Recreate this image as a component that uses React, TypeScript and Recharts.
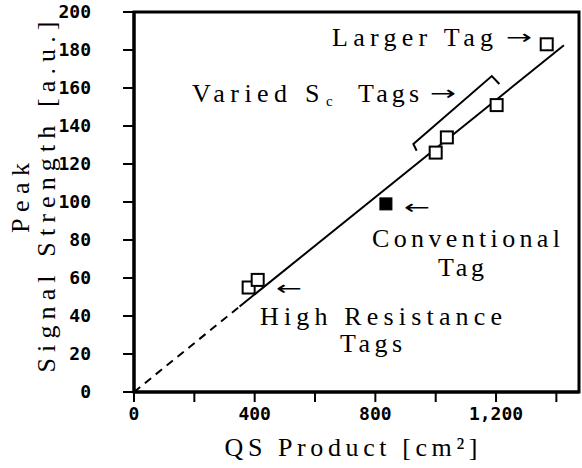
import React from "react";
import { ScatterChart, Scatter, XAxis, YAxis, ReferenceArea } from "recharts";

// tag measurements: QS product [cm²] vs peak signal [a.u.]
const highResQS = [380, 410];
const highResSignal = [55, 59];
const conventionalQS = [835];
const conventionalSignal = [99];
const variedQS = [1000, 1037, 1202];
const variedSignal = [126, 134, 151];
const largerQS = [1368];
const largerSignal = [183];

// fitted line through origin, dashed part is the extrapolation
const fitDashedQS = [0, 350];
const fitDashedSignal = [0, 45];
const fitSolidQS = [350, 1425];
const fitSolidSignal = [45, 182.5];

// bracket grouping the varied Sc tags
const bracketQS = [937, 926, 1186, 1211];
const bracketSignal = [127, 130.5, 166.3, 162.1];

const xTicks = [0, 200, 400, 600, 800, 1000, 1200, 1400];
const xTickLabels = ["0", "", "400", "", "800", "", "1,200", ""];
const yTicks = [0, 20, 40, 60, 80, 100, 120, 140, 160, 180, 200];
const X_MAX = 1475;

const zip = (xs: number[], ys: number[]) => xs.map((x, i) => ({ x, y: ys[i] }));

const OpenSquare = (props: any) => (
    <rect x={props.cx - 6} y={props.cy - 6} width={12} height={12} fill="#fff" stroke="#000" strokeWidth={2} />
);
const FilledSquare = (props: any) => (
    <rect x={props.cx - 6} y={props.cy - 6} width={12} height={12} fill="#000" stroke="#000" strokeWidth={1} />
);
const NoDot = () => <g />;

const tickFont = { fontFamily: "DejaVu Sans Mono", fontSize: 18, fontWeight: 700, fill: "#000" };

const XTick = ({ x, y, payload }: any) => (
    <text x={x} y={y + 16} textAnchor="middle" {...tickFont}>
        {xTickLabels[xTicks.indexOf(payload.value)] ?? ""}
    </text>
);
const YTick = ({ x, y, payload }: any) => (
    <text x={x - 30} y={y + 6} textAnchor="end" {...tickFont}>
        {payload.value}
    </text>
);

// serif label, stretched to the width it has in the original
const Label = ({ x, y, w, children, anchor = "start", rotate }: any) => (
    <text
        x={rotate ? 0 : x}
        y={rotate ? 0 : y}
        transform={rotate ? `translate(${x},${y}) rotate(-90)` : undefined}
        textAnchor={anchor}
        textLength={w}
        lengthAdjust="spacing"
        fontFamily="Liberation Serif"
        fontSize={26}
        fill="#000"
    >
        {children}
    </text>
);
const Arrow = ({ x, y, dir }: any) => (
    <text x={x} y={y} textLength={26} lengthAdjust="spacingAndGlyphs" fontFamily="DejaVu Sans" fontSize={20} fill="#000">
        {dir === "left" ? "←" : "→"}
    </text>
);

export default function App() {
    return (
        <div style={{ position: "absolute", left: 0, top: 0, width: 582, height: 468, background: "#fff" }}>
            <ScatterChart width={582} height={468} margin={{ top: 12, right: 3, left: 0, bottom: 0 }}>
                <XAxis
                    type="number"
                    dataKey="x"
                    domain={[0, X_MAX]}
                    ticks={xTicks}
                    height={76}
                    axisLine={{ stroke: "#000", strokeWidth: 3 }}
                    tickLine={{ stroke: "#000", strokeWidth: 2 }}
                    tickSize={10}
                    tick={<XTick />}
                    allowDataOverflow
                />
                <YAxis
                    type="number"
                    dataKey="y"
                    domain={[0, 200]}
                    ticks={yTicks}
                    width={134}
                    axisLine={{ stroke: "#000", strokeWidth: 3 }}
                    tickLine={{ stroke: "#000", strokeWidth: 2 }}
                    tickSize={11}
                    tick={<YTick />}
                    allowDataOverflow
                />
                <ReferenceArea x1={0} x2={X_MAX} y1={0} y2={200} fill="none" stroke="#000" strokeWidth={3} ifOverflow="visible" />
                <Scatter data={zip(fitDashedQS, fitDashedSignal)} line={{ stroke: "#000", strokeWidth: 2, strokeDasharray: "8 6" }} shape={NoDot} isAnimationActive={false} />
                <Scatter data={zip(fitSolidQS, fitSolidSignal)} line={{ stroke: "#000", strokeWidth: 2 }} shape={NoDot} isAnimationActive={false} />
                <Scatter data={zip(bracketQS, bracketSignal)} line={{ stroke: "#000", strokeWidth: 2 }} shape={NoDot} isAnimationActive={false} />
                <Scatter data={zip(highResQS, highResSignal)} shape={OpenSquare} isAnimationActive={false} />
                <Scatter data={zip(variedQS, variedSignal)} shape={OpenSquare} isAnimationActive={false} />
                <Scatter data={zip(largerQS, largerSignal)} shape={OpenSquare} isAnimationActive={false} />
                <Scatter data={zip(conventionalQS, conventionalSignal)} shape={FilledSquare} isAnimationActive={false} />
            </ScatterChart>

            {/* annotations and axis titles */}
            <svg width={582} height={468} style={{ position: "absolute", left: 0, top: 0, pointerEvents: "none" }}>
                <Label x={332} y={46} w={161}>Larger Tag</Label>
                <Arrow x={506} y={44} dir="right" />

                <Label x={192} y={102} w={95}>Varied</Label>
                <Label x={305} y={102} w={20}>S</Label>
                <text x={326} y={106} fontFamily="Liberation Serif" fontSize={15} fill="#000">c</text>
                <Label x={358} y={102} w={61}>Tags</Label>
                <Arrow x={430} y={100} dir="right" />

                <Arrow x={404} y={214} dir="left" />
                <Label x={372} y={247} w={188}>Conventional</Label>
                <Label x={438} y={276} w={46}>Tag</Label>

                <Arrow x={276} y={295} dir="left" />
                <Label x={260} y={325} w={242}>High Resistance</Label>
                <Label x={340} y={352} w={62}>Tags</Label>

                <Label x={351} y={456} w={253} anchor="middle">QS Product [cm²]</Label>
                <Label x={29} y={198} w={70} anchor="middle" rotate>Peak</Label>
                <Label x={55} y={197} w={351} anchor="middle" rotate>Signal Strength [a.u.]</Label>
            </svg>
        </div>
    );
}
